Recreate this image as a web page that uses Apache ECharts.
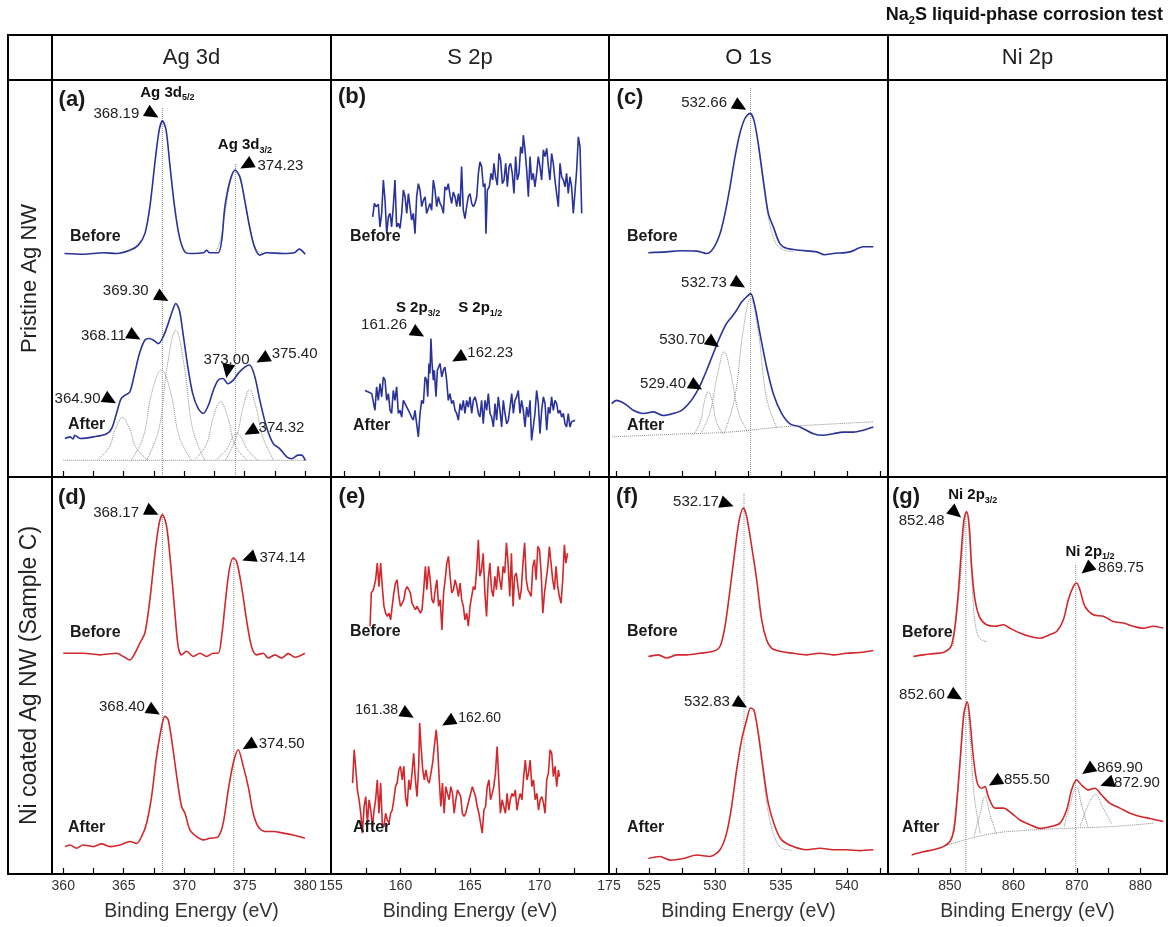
<!DOCTYPE html>
<html><head><meta charset="utf-8">
<script src="https://cdn.jsdelivr.net/npm/echarts@6/dist/echarts.min.js"></script>
<style>html,body{margin:0;padding:0;background:#fff}#c{width:1171px;height:927px}</style>
</head><body><div id="c"></div>
<script>
// ---------------- DATA ----------------
const columnTitles = ['Ag 3d', 'S 2p', 'O 1s', 'Ni 2p'];
const rowTitles = ['Pristine Ag NW', 'Ni coated Ag NW (Sample C)'];
const chartTitle = ['Na', '2', 'S liquid-phase corrosion test'];
const xName = 'Binding Energy (eV)';

// tick label values per column
const agTickLabels = [360, 365, 370, 375, 380];
const agTicks = [360, 362.5, 365, 367.5, 370, 372.5, 375, 377.5, 380];
const sTickLabels = [155, 160, 165, 170, 175];
const sTicksTop = [155, 157.5, 160, 162.5, 165, 167.5, 170, 172.5];
const sTicks = [157.5, 160, 162.5, 165, 167.5, 170, 172.5];
const oTickLabels = [525, 530, 535, 540];
const oTicks = [522.5, 525, 527.5, 530, 532.5, 535, 537.5, 540, 542.5];
const niTickLabels = [850, 860, 870, 880];
const niTicks = [845, 850, 855, 860, 865, 870, 875, 880];

// (a) Ag 3d, pristine
const agA_before = [[360.1,56.3],[361.65,56.1],[363.3,56.5],[364.4,56.3],[365.5,57.1],[366.2,58.4],[366.75,61.3],[367.16,68.1],[367.6,79.8],[367.93,87.4],[368.2,89.7],[368.5,87.4],[368.8,79],[369.2,68.1],[369.6,60.5],[370.05,56.7],[370.5,56.3],[371.6,56.5],[371.85,57.1],[372.1,56.5],[372.8,56.5],[373.1,59.7],[373.36,68.1],[373.8,74.8],[374.2,77.3],[374.6,75.6],[375.0,69.7],[375.4,63],[375.8,58],[376.25,55.9],[376.8,56.5],[378.2,56.3],[379.1,56.5],[379.5,57.4],[380.0,56.1]];
const agA_after = [[360.14,9.7],[360.55,10.1],[360.8,9.6],[360.96,10.5],[361.4,9.7],[362.5,10.1],[363.6,10.9],[364.0,12.2],[364.4,16],[364.77,19.7],[365.1,20.6],[365.5,21.4],[365.9,26.1],[366.3,31.1],[366.75,34.5],[367.1,34.9],[367.44,34.5],[367.85,33.6],[368.26,35.3],[368.68,38.7],[369.04,42],[369.3,43.7],[369.6,42],[369.9,36.1],[370.3,27.7],[370.7,21],[371.16,17.2],[371.57,16],[372.0,18.1],[372.4,21.8],[372.8,24.4],[373.2,24.8],[373.6,23.5],[374.05,24.4],[374.46,26.1],[375.0,27.7],[375.4,28.2],[375.84,25.2],[376.25,19.3],[376.8,12.6],[377.36,8.4],[377.9,7.1],[378.5,5],[378.9,4.6],[379.4,5.5],[379.7,5.5],[380.0,4.2]];
const agA_fitBefore = [[372.6,56.5],[373.0,60],[373.4,67],[373.8,74],[374.23,77.3],[374.6,75],[375.0,69.5],[375.5,62],[376.0,57.2],[376.5,56.4]];
const agA_fitBase = [[360.0,4.2],[380.1,4.2]];
const agA_fit1 = [[362.8,4.2],[363.8,7.5],[364.3,12],[364.9,15],[365.5,12],[366.0,7.5],[367.0,4.2]];
const agA_fit2 = [[365.6,4.2],[366.6,10],[367.3,21],[368.11,27],[368.9,21],[369.6,10],[370.6,4.2]];
const agA_fit3 = [[366.9,4.2],[367.9,12],[368.6,28],[369.3,37],[370.0,28],[370.7,12],[371.7,4.2]];
const agA_fit4 = [[370.8,4.2],[371.8,8],[372.4,15],[373.0,19],[373.6,15],[374.2,8],[375.2,4.2]];
const agA_fit5 = [[372.6,4.2],[373.5,7],[374.0,10],[374.32,11],[374.7,10],[375.2,7],[376.1,4.2]];
const agA_fit6 = [[373.4,4.2],[374.3,10],[374.9,18],[375.4,22],[375.9,18],[376.5,10],[377.4,4.2]];
const agA_refLines = [[368.19,93],[374.23,79]];
const peaksA = [['368.19',368.19,89.7],['374.23',374.23,77.3],['369.30',369.30,43.7],['368.11',368.11,35],['373.00',373.00,24.8],['375.40',375.40,28.2],['364.90',364.90,19.7],['374.32',374.32,11]];

// (b) S 2p, pristine
const sB_before = [[157.05,65.5],[157.17,68.9],[157.29,68.1],[157.45,68.7],[157.57,63.0],[157.69,66.4],[157.81,74.8],[157.93,69.7],[158.05,61.3],[158.17,65.5],[158.29,66.4],[158.40,63.0],[158.52,68.1],[158.64,74.8],[158.76,63.0],[158.88,63.9],[159.0,62.6],[159.12,66.4],[159.24,72.3],[159.36,70.6],[159.48,66.4],[159.6,71.4],[159.71,68.1],[159.83,64.7],[159.95,66.4],[160.07,61.3],[160.19,70.6],[160.31,73.9],[160.43,72.3],[160.55,68.1],[160.67,69.7],[160.79,70.6],[160.9,66.4],[161.02,66.0],[161.14,68.9],[161.26,67.2],[161.38,74.8],[161.5,72.3],[161.62,68.1],[161.74,70.6],[161.86,68.9],[161.98,68.1],[162.1,66.4],[162.21,73.1],[162.33,72.3],[162.45,73.9],[162.57,71.0],[162.69,68.9],[162.81,71.8],[162.93,70.6],[163.05,68.1],[163.17,71.4],[163.29,68.1],[163.4,78.2],[163.52,67.2],[163.64,65.1],[163.76,68.1],[163.88,70.6],[164.0,71.4],[164.12,68.9],[164.24,68.1],[164.36,68.9],[164.48,70.6],[164.6,76.5],[164.71,79.4],[164.83,78.2],[164.95,73.1],[165.07,73.9],[165.14,61.3],[165.24,72.3],[165.38,73.1],[165.5,76.5],[165.62,74.8],[165.71,79.0],[165.83,75.6],[165.95,73.5],[166.07,81.5],[166.19,79.8],[166.31,73.9],[166.43,74.8],[166.55,79.0],[166.67,73.1],[166.79,78.2],[166.9,79.0],[167.02,76.5],[167.14,71.4],[167.26,80.7],[167.38,74.8],[167.5,76.5],[167.62,83.2],[167.74,81.5],[167.81,86.1],[167.93,82.4],[168.05,77.3],[168.17,70.6],[168.29,80.7],[168.4,74.8],[168.52,76.5],[168.64,73.1],[168.76,76.5],[168.88,80.7],[169.0,78.2],[169.12,74.8],[169.24,82.4],[169.36,80.7],[169.48,82.8],[169.6,78.2],[169.71,74.8],[169.83,81.5],[169.95,79.0],[170.07,74.8],[170.19,71.4],[170.31,68.1],[170.43,79.0],[170.55,75.6],[170.67,74.8],[170.79,73.1],[170.9,76.5],[171.02,71.4],[171.14,75.6],[171.26,73.1],[171.38,66.4],[171.5,71.8],[171.62,77.3],[171.74,85.7],[171.86,83.2],[171.98,66.4]];
const sB_after = [[156.5,21.8],[156.74,21.4],[156.98,21.0],[157.21,16.8],[157.33,22.7],[157.45,19.3],[157.57,23.5],[157.69,20.2],[157.81,25.2],[157.93,24.4],[158.05,19.3],[158.17,21.0],[158.29,16.8],[158.4,16.0],[158.52,21.8],[158.64,19.3],[158.76,22.7],[158.88,16.0],[159.0,16.8],[159.12,15.1],[159.24,19.3],[159.36,18.5],[159.48,18.9],[159.6,16.8],[159.71,16.0],[159.83,15.1],[159.95,14.3],[160.07,16.8],[160.19,13.4],[160.31,10.1],[160.43,16.0],[160.55,19.3],[160.67,18.5],[160.79,25.2],[160.9,24.4],[160.98,20.2],[161.07,28.6],[161.14,26.1],[161.21,34.9],[161.29,28.6],[161.38,24.4],[161.45,26.9],[161.57,20.2],[161.67,26.9],[161.76,27.7],[161.86,28.6],[161.98,25.2],[162.1,26.9],[162.21,27.7],[162.33,24.4],[162.45,19.3],[162.57,21.0],[162.69,18.5],[162.81,19.3],[162.93,16.8],[163.05,16.0],[163.17,14.3],[163.29,18.5],[163.4,16.8],[163.52,19.3],[163.64,16.0],[163.76,19.3],[163.88,17.6],[164.0,20.2],[164.12,16.0],[164.24,19.3],[164.36,20.2],[164.48,18.5],[164.6,16.0],[164.71,15.1],[164.83,19.3],[164.95,13.4],[165.07,19.3],[165.19,16.8],[165.31,21.0],[165.43,16.0],[165.55,15.1],[165.67,12.6],[165.79,18.5],[165.9,14.3],[166.02,20.2],[166.14,16.8],[166.26,12.6],[166.38,19.3],[166.5,16.0],[166.62,13.4],[166.74,14.3],[166.86,17.6],[166.98,21.0],[167.1,16.0],[167.21,19.3],[167.33,20.2],[167.45,21.8],[167.57,16.0],[167.69,19.3],[167.81,16.8],[167.93,12.6],[168.05,17.6],[168.17,15.1],[168.29,19.3],[168.4,9.2],[168.52,12.6],[168.64,16.0],[168.76,21.8],[168.88,18.5],[169.0,10.9],[169.12,16.8],[169.24,20.2],[169.36,18.5],[169.48,11.8],[169.6,17.6],[169.71,16.0],[169.83,20.2],[169.95,16.8],[170.07,19.3],[170.19,18.5],[170.31,16.0],[170.43,16.8],[170.55,15.1],[170.67,16.0],[170.79,13.4],[170.9,12.6],[171.02,16.0],[171.14,12.6],[171.26,13.9],[171.38,13.4],[171.5,14.3]];
const peaksB = [['161.26',161.26,34.9],['162.23',162.23,27.7]];

// (c) O 1s, pristine
const oC_before = [[524.95,56.5],[526.34,56.7],[527.35,57.0],[528.6,56.9],[529.37,56.3],[529.87,57.6],[530.38,61.3],[530.76,66.4],[531.14,73.1],[531.52,80.7],[531.89,86.6],[532.27,90.3],[532.65,91.6],[532.95,89.9],[533.28,84.0],[533.66,74.8],[534.04,66.4],[534.42,63.0],[534.92,58.8],[535.43,57.6],[536.44,57.1],[537.7,56.7],[538.3,56.0],[538.96,56.3],[540.23,56.7],[541.24,58.0],[542.0,58.0]];
const oC_after = [[522.17,18.5],[522.55,19.3],[522.93,18.9],[523.31,18.1],[523.81,16.8],[524.57,16.0],[525.33,16.4],[526.09,15.5],[526.84,16.0],[527.47,16.8],[528.11,18.9],[528.61,21.4],[528.99,23.9],[529.37,26.9],[529.87,31.1],[530.38,35.3],[530.88,38.7],[531.26,40.3],[531.64,42.0],[532.02,44.1],[532.4,45.4],[532.7,46.2],[533.03,42.9],[533.41,36.1],[533.91,27.7],[534.42,21.0],[535.05,16.0],[535.68,13.4],[536.44,12.6],[537.45,10.9],[538.21,10.5],[538.96,10.9],[539.72,11.3],[540.48,11.3],[541.24,11.8],[542.0,12.6]];
const oC_fitBefore = [[533.3,83],[533.7,73],[534.1,64.5],[534.6,59],[535.2,57.2],[535.9,56.8]];
const oC_fitBase = [[522.2,10.1],[527,10.8],[531,11.3],[535,12.6],[538,13.2],[542,13.9]];
const oC_fit1 = [[528.4,10.7],[528.9,14],[529.2,19],[529.5,21.5],[529.8,19],[530.1,14],[530.6,10.9]];
const oC_fit2 = [[528.9,10.9],[529.6,16],[530.2,26],[530.7,31.5],[531.2,26],[531.8,16],[532.5,11.2]];
const oC_fit3 = [[530.7,11],[531.5,20],[532.1,36],[532.7,45],[533.3,36],[533.9,20],[534.7,12.2]];
const oC_refLines = [[532.7,98]];
const peaksC = [['532.66',532.66,91.6],['532.73',532.73,46.2],['530.70',530.70,31.5],['529.40',529.40,21.5]];

// (d) Ag 3d, Ni coated
const agD_before = [[360.0,55.6],[361.65,55.6],[363.03,55.2],[364.41,55.6],[364.96,54.8],[365.51,53.9],[365.92,55.6],[366.34,58.2],[366.75,60.7],[367.16,69.1],[367.58,80.8],[367.93,88.4],[368.2,90.5],[368.54,87.6],[368.87,78.3],[369.23,65.7],[369.5,57.3],[369.78,55.2],[370.19,56.1],[370.74,54.8],[371.3,55.6],[371.85,54.8],[372.4,55.6],[372.81,55.6],[373.09,59.8],[373.36,67.4],[373.72,76.6],[374.05,79.6],[374.33,78.7],[374.74,72.4],[375.15,64.0],[375.56,57.3],[375.98,55.2],[376.53,55.6],[376.94,54.4],[377.49,55.2],[378.04,54.4],[378.6,55.5],[379.15,54.6],[379.97,55.6]];
const agD_after = [[360.14,6.9],[360.55,7.3],[361.1,6.5],[361.65,7.3],[362.48,6.9],[363.17,7.6],[363.86,6.9],[364.68,7.3],[365.51,8.2],[366.06,7.7],[366.47,9.4],[366.89,12.8],[367.3,19.5],[367.71,29.6],[368.13,37.1],[368.4,39.7],[368.68,38.8],[369.04,32.1],[369.42,23.7],[369.78,17.0],[370.06,15.3],[370.47,11.1],[371.02,9.4],[371.57,8.6],[372.12,9.0],[372.81,9.4],[373.22,12.8],[373.64,21.2],[374.05,27.9],[374.46,31.3],[374.88,27.1],[375.29,22.0],[375.7,15.3],[376.12,11.9],[376.67,10.7],[377.36,10.7],[378.18,10.3],[379.0,9.8],[379.97,9.0]];
const agD_refLines = [[368.2,91],[374.1,80]];
const peaksD = [['368.17',368.17,90.5],['374.14',374.14,79.6],['368.40',368.40,39.7],['374.50',374.50,31.3]];

// (e) S 2p, Ni coated
const sE_before = [[157.81,62.4],[157.9,70.8],[158.05,71.6],[158.21,74.1],[158.33,78.3],[158.45,72.4],[158.57,78.3],[158.69,72.4],[158.81,67.4],[158.93,65.7],[159.05,64.9],[159.17,65.7],[159.29,64.0],[159.4,67.4],[159.52,70.8],[159.64,73.3],[159.76,74.1],[159.88,69.9],[160.0,67.4],[160.12,68.2],[160.24,69.1],[160.36,71.6],[160.48,72.4],[160.6,71.6],[160.71,70.8],[160.83,68.2],[160.95,67.4],[161.07,66.6],[161.19,67.4],[161.31,67.0],[161.43,65.7],[161.55,66.6],[161.67,71.6],[161.79,77.5],[161.9,71.6],[162.02,77.5],[162.14,74.1],[162.26,69.1],[162.38,68.2],[162.5,71.6],[162.62,74.1],[162.74,67.4],[162.86,69.1],[162.98,61.5],[163.1,70.8],[163.21,74.1],[163.33,78.3],[163.45,80.0],[163.57,75.0],[163.69,70.8],[163.81,71.6],[163.93,74.1],[164.05,72.4],[164.17,69.9],[164.29,73.3],[164.4,69.1],[164.52,67.4],[164.64,64.0],[164.76,65.7],[164.88,62.4],[165.0,67.4],[165.12,69.9],[165.24,72.4],[165.36,71.6],[165.48,76.6],[165.6,84.2],[165.71,75.0],[165.83,76.6],[165.95,80.8],[166.07,70.8],[166.19,64.9],[166.31,74.1],[166.43,78.3],[166.55,71.6],[166.67,69.9],[166.79,75.0],[166.9,71.6],[167.02,77.5],[167.14,74.1],[167.26,71.6],[167.38,77.5],[167.5,75.8],[167.62,83.4],[167.74,78.3],[167.86,69.9],[167.98,80.8],[168.1,67.4],[168.21,75.0],[168.33,75.8],[168.45,72.4],[168.57,69.1],[168.69,71.6],[168.81,78.3],[168.93,83.4],[169.05,74.1],[169.17,71.6],[169.29,70.8],[169.4,69.9],[169.52,77.5],[169.64,79.2],[169.76,74.1],[169.88,82.5],[170.0,81.7],[170.12,75.8],[170.24,65.7],[170.36,70.8],[170.48,74.1],[170.6,77.5],[170.71,82.5],[170.83,78.3],[170.95,74.1],[171.07,71.6],[171.19,77.5],[171.31,72.4],[171.43,69.9],[171.55,68.2],[171.67,74.1],[171.79,82.9],[171.9,78.3],[172.02,80.8]];
const sE_after = [[156.55,22.9],[156.67,31.3],[156.79,26.2],[156.9,21.2],[157.02,18.7],[157.14,15.3],[157.26,10.3],[157.38,17.0],[157.5,19.5],[157.62,12.8],[157.74,18.7],[157.86,16.1],[157.98,11.9],[158.1,16.1],[158.21,18.7],[158.33,23.7],[158.45,15.3],[158.57,22.9],[158.69,12.8],[158.81,11.9],[158.93,15.3],[159.05,13.6],[159.17,12.8],[159.29,15.3],[159.4,16.1],[159.52,18.7],[159.64,22.0],[159.76,22.9],[159.88,26.2],[160.0,27.1],[160.12,23.7],[160.24,27.1],[160.36,19.5],[160.48,17.0],[160.6,23.7],[160.71,21.2],[160.83,25.4],[160.95,30.4],[161.07,23.7],[161.19,19.5],[161.31,27.1],[161.38,38.0],[161.48,32.1],[161.6,26.2],[161.71,23.7],[161.83,26.2],[161.95,23.7],[162.07,22.9],[162.19,25.4],[162.31,27.9],[162.43,32.1],[162.57,36.3],[162.67,32.1],[162.79,23.7],[162.9,17.0],[163.02,22.9],[163.14,15.3],[163.26,22.0],[163.38,20.3],[163.5,18.7],[163.62,22.0],[163.74,20.3],[163.86,15.3],[163.98,18.7],[164.1,21.2],[164.21,21.2],[164.33,19.5],[164.45,15.3],[164.57,14.5],[164.69,15.3],[164.81,17.0],[164.93,18.7],[165.05,20.3],[165.17,22.0],[165.29,22.0],[165.4,19.5],[165.52,17.0],[165.64,15.3],[165.76,12.8],[165.88,10.3],[166.0,16.1],[166.12,17.0],[166.24,22.0],[166.36,23.7],[166.48,18.7],[166.6,20.3],[166.71,22.0],[166.83,25.4],[166.95,32.1],[167.07,23.7],[167.19,15.3],[167.31,18.7],[167.43,17.0],[167.55,15.3],[167.67,20.3],[167.79,16.1],[167.9,18.7],[168.02,20.3],[168.14,19.5],[168.26,21.2],[168.38,16.1],[168.5,18.7],[168.62,20.3],[168.74,18.7],[168.86,24.5],[168.98,28.7],[169.1,23.7],[169.21,25.4],[169.33,28.7],[169.45,22.0],[169.57,23.7],[169.69,18.7],[169.81,20.3],[169.93,16.1],[170.05,18.7],[170.17,19.5],[170.29,17.8],[170.4,15.3],[170.52,23.7],[170.64,25.4],[170.76,31.3],[170.88,30.4],[171.0,24.5],[171.12,27.1],[171.24,22.0],[171.36,26.2],[171.43,24.5]];
const peaksE = [['161.38',161.38,38.0],['162.60',162.60,36.3]];

// (f) O 1s, Ni coated
const oF_before = [[524.95,54.8],[525.71,55.2],[526.34,54.4],[527.1,55.2],[527.85,55.2],[528.86,55.6],[529.87,56.1],[530.38,57.3],[530.76,62.4],[531.14,71.6],[531.52,81.7],[531.84,89.2],[532.15,92.2],[532.4,90.1],[532.78,82.5],[533.16,74.1],[533.54,64.0],[533.91,59.0],[534.29,56.9],[534.92,56.1],[535.93,55.6],[536.94,55.2],[537.95,55.6],[538.96,55.2],[539.97,55.6],[540.98,55.8],[542.0,56.3]];
const oF_after = [[524.95,3.9],[525.83,4.4],[526.59,3.5],[527.6,3.9],[528.61,4.8],[529.62,4.4],[530.38,6.1],[530.88,10.3],[531.26,17.0],[531.64,26.2],[532.02,33.8],[532.4,38.8],[532.7,41.8],[532.95,41.3],[533.28,35.5],[533.66,26.2],[534.04,17.8],[534.55,11.9],[535.05,8.6],[535.93,6.9],[536.94,6.1],[537.95,6.5],[538.96,6.1],[539.97,6.1],[540.98,5.9],[542.0,6.1]];
const oF_fitAfter = [[533.28,35.5],[533.66,25],[534.04,15.5],[534.55,9],[535.05,6.5],[535.9,6.0]];
const oF_refLines = [[532.2,96]];
const peaksF = [['532.17',532.17,92.2],['532.83',532.83,41.8]];

// (g) Ni 2p, Ni coated
const niG_before = [[844.23,54.8],[845.8,55.2],[847.38,55.5],[848.95,55.8],[849.74,56.5],[850.26,57.7],[850.79,62.4],[851.31,70.8],[851.84,82.5],[852.2,89.2],[852.62,91.3],[853.04,87.6],[853.41,77.5],[853.94,69.1],[854.72,64.5],[855.77,62.8],[857.09,62.4],[858.4,62.8],[859.45,61.9],[861.02,60.7],[862.6,59.8],[864.17,59.4],[865.75,60.3],[866.8,61.1],[867.85,64.0],[868.64,69.1],[869.42,72.4],[869.95,73.3],[870.47,71.6],[871.26,67.4],[872.57,65.3],[874.15,64.9],[875.72,63.6],[877.3,63.2],[878.87,62.4],[880.45,61.9],[882.02,62.4],[883.6,61.9]];
const niG_after = [[843.96,4.8],[845.8,5.6],[847.38,6.1],[848.95,6.9],[850.0,8.2],[850.63,11.1],[851.15,19.5],[851.68,30.4],[852.2,40.5],[852.73,43.4],[853.15,38.8],[853.67,29.6],[854.3,22.9],[854.99,21.6],[855.51,22.0],[856.04,19.5],[857.09,16.6],[858.4,16.6],[859.71,15.3],[861.02,13.6],[862.6,12.4],[864.17,11.5],[865.75,11.9],[867.32,12.8],[868.37,16.1],[869.16,21.2],[869.95,23.7],[870.73,22.4],[871.78,21.2],[872.83,21.6],[873.88,19.9],[875.2,17.8],[876.77,16.6],[878.35,15.3],[879.92,14.5],[881.5,14.0],[883.6,13.2]];
const niG_fitBefore = [[850.5,57.5],[851.5,72],[852.3,88],[852.6,91.3],[853.0,86],[853.6,70],[853.9,64],[854.6,59.5],[855.8,58.5]];
const niG_fitBase = [[849,7],[856,10],[862,11],[870,11.6],[876,12],[882,12.8]];
const niG_fit1 = [[850.3,9],[851.3,22],[852.1,38],[852.6,43],[853.1,36],[853.8,20],[854.8,10]];
const niG_fit2 = [[853.8,9.5],[854.7,15],[855.5,19.5],[856.3,15],[857.3,10]];
const niG_fit3 = [[868.0,12],[869.0,18],[869.9,22],[870.8,17],[871.8,11.5]];
const niG_fit4 = [[870.5,12],[871.8,17.5],[872.9,20],[874.0,17],[875.5,12.5]];
const niG_refLines = [[852.5,90],[869.8,78]];
const peaksG = [['852.48',852.48,91.3],['869.75',869.75,73.3],['852.60',852.60,43.4],['855.50',855.50,22],['869.90',869.90,23.7],['872.90',872.90,21.6]];

// ---------------- LAYOUT / STYLE ----------------
const FONT = '"Liberation Sans", Arial, Helvetica, sans-serif';
const BLUE = '#2a3399', RED = '#d2282c', FITC = '#8c8c8c';
const COLS = [[52,279],[331,278],[609,279],[888,279]];
const ROWS = [[80,397],[477,397]];
// annotation layout: [triDx, triDy, arrowAngleDeg, labelDx, labelDy]
const layA = [[-10,-7,30,-46,-7],[11,-5,150,45,-4],[-13.5,-6,30,-50,-13],[-27,-2,30,-58,-2],[7,-7.5,100,6,-18.5],[13,-6,150,45,-11.5],[-12.6,1,30,-45,0],[14,-2,150,45,-5]];
const layB = [[-13.6,-5.4,30,-47.6,-13.4],[13,-9,150,45,-14]];
const layC = [[-10,-7,30,-46,-10],[-12,-9.6,30,-47,-10.6],[-11,-9,35,-42,-12],[-11,-5.6,30,-44,-7.6]];
const layD = [[-10,-3,25,-46,-2],[14.5,0,160,48,0],[-11,-5.4,30,-43,-9.4],[10,-4,150,43,-6]];
const layE = [[-12,-9,30,-43,-13],[11.6,-8,150,43,-12]];
const layF = [[-16.6,-4,20,-47.6,-6],[-11.4,-4,30,-45.4,-6]];
const layG = [[-10,1.5,40,-44,9.5],[11.6,-14,140,45.6,-15],[-10.5,-5.7,30,-44.5,-6.7],[10,-4.7,150,42,-6.7],[11.6,-10,145,43.6,-12],[11.6,-5,160,41.6,-5]];

const panels = [
  {tag:'(a)', col:0, row:0, xr:[359.07,382.13], ticks:agTicks, labels:agTickLabels, color:BLUE, curves:[agA_before, agA_after], fits:[agA_fitBefore, agA_fitBase, agA_fit1, agA_fit2, agA_fit3, agA_fit4, agA_fit5, agA_fit6], refs:agA_refLines, peaks:peaksA, lay:layA, smooth:0.3,
   heads:[['Ag 3d','5/2',0,5,-28],['Ag 3d','3/2',1,9.5,-25]], txt:[[20,20],[18,157],[16,345]]},
  {tag:'(b)', col:1, row:0, xr:[154.07,173.93], ticks:sTicksTop, labels:sTickLabels, color:BLUE, curves:[sB_before, sB_after], fits:[], refs:[], peaks:peaksB, lay:layB, smooth:false,
   heads:[['S 2p','3/2',0,-13.6,-30.4],['S 2p','1/2',1,35,-59]], txt:[[21,17],[19,157],[22,346]]},
  {tag:'(c)', col:2, row:0, xr:[521.97,543.11], ticks:oTicks, labels:oTickLabels, color:BLUE, curves:[oC_before, oC_after], fits:[oC_fitBefore, oC_fitBase, oC_fit1, oC_fit2, oC_fit3], refs:oC_refLines, peaks:peaksC, lay:layC, smooth:0.3,
   heads:[], txt:[[21,18],[18,157],[18,346]]},
  {tag:'(d)', col:0, row:1, xr:[359.07,382.13], ticks:agTicks, labels:agTickLabels, color:RED, curves:[agD_before, agD_after], fits:[], refs:agD_refLines, peaks:peaksD, lay:layD, smooth:0.3,
   heads:[], txt:[[20,21],[18,156],[16,351]]},
  {tag:'(e)', col:1, row:1, xr:[155,175], ticks:sTicks, labels:sTickLabels, color:RED, curves:[sE_before, sE_after], fits:[], refs:[], peaks:peaksE, lay:layE, smooth:false, small:true,
   heads:[], txt:[[21,20],[19,155],[22,351]]},
  {tag:'(f)', col:2, row:1, xr:[521.97,543.11], ticks:oTicks, labels:oTickLabels, color:RED, curves:[oF_before, oF_after], fits:[oF_fitAfter], refs:oF_refLines, peaks:peaksF, lay:layF, smooth:0.3,
   heads:[], txt:[[18,20],[18,155],[18,351]]},
  {tag:'(g)', col:3, row:1, xr:[840.24,884.18], ticks:niTicks, labels:niTickLabels, color:RED, curves:[niG_before, niG_after], fits:[niG_fitBefore, niG_fitBase, niG_fit1, niG_fit2, niG_fit3, niG_fit4], refs:niG_refLines, peaks:peaksG, lay:layG, smooth:0.3,
   heads:[['Ni 2p','3/2',0,7,-16.5],['Ni 2p','1/2',1,14.6,-31]], txt:[[18,20],[14,156],[14,351]]}
];

// ---------------- BUILD ----------------
const grid = [], xAxis = [], yAxis = [], series = [];
panels.forEach((p, i) => {
  const [left, width] = COLS[p.col], [top, height] = ROWS[p.row];
  grid.push({left, top, width, height});
  xAxis.push({
    type:'value', gridIndex:i, min:p.xr[0], max:p.xr[1],
    axisLine:{show:false}, splitLine:{show:false},
    axisTick:{show:true, inside:true, length:6, customValues:p.ticks, lineStyle:{color:'#000', width:1.2}},
    axisLabel:{show:p.row === 1, customValues:p.labels, color:'#333', fontSize:14, fontFamily:FONT, margin:5},
    name: p.row === 1 ? xName : '', nameLocation:'middle', nameGap:28,
    nameTextStyle:{fontSize:19.5, color:'#333', fontFamily:FONT}
  });
  yAxis.push({type:'value', gridIndex:i, min:0, max:100, show:false});
  p.fits.forEach(f => series.push({type:'line', xAxisIndex:i, yAxisIndex:i, data:f, symbol:'none', smooth:0.4, silent:true, z:1,
    lineStyle:{color:FITC, width:1, type:'dotted'}}));
  p.refs.forEach(r => series.push({type:'line', xAxisIndex:i, yAxisIndex:i, data:[[r[0],0],[r[0],r[1]]], symbol:'none', silent:true, z:1,
    lineStyle:{color:FITC, width:1, type:'dotted'}}));
  p.curves.forEach(c => series.push({type:'line', xAxisIndex:i, yAxisIndex:i, data:c, symbol:'none', smooth:p.smooth, silent:true, z:3,
    lineStyle:{color:p.color, width:1.6}}));
});

const chart = echarts.init(document.getElementById('c'), null, {width:1171, height:927});
chart.setOption({animation:false, backgroundColor:'#fff', grid, xAxis, yAxis, series});

function txt(text, x, y, font, align, fill) {
  return {type:'text', z:20, silent:true,
    style:{text, x, y, font, fill:fill||'#1a1a1a', align:align||'center', verticalAlign:'middle', textAlign:align||'center', textVerticalAlign:'middle'}};
}
function subTxt(main, sub, x, y, size, align) {
  return {type:'text', z:20, silent:true, style:{
    text:'{m|' + main + '}{s|' + sub + '}', x, y, align:align||'center', verticalAlign:'middle', textAlign:align||'center', textVerticalAlign:'middle',
    rich:{m:{font:'bold ' + size + 'px ' + FONT, fill:'#111', color:'#111', lineHeight:size+4},
          s:{font:'bold ' + Math.round(size*0.62) + 'px ' + FONT, fill:'#111', color:'#111', lineHeight:Math.round(size*0.62), verticalAlign:'bottom'}}}};
}
function arrow(cx, cy, deg) {
  const t = deg * Math.PI / 180, ux = Math.cos(t), uy = Math.sin(t), nx = -uy, ny = ux;
  const L = 14, W = 6.5;
  const tip = [cx + ux*L/2, cy + uy*L/2], b = [cx - ux*L/2, cy - uy*L/2];
  return {type:'polygon', z:20, silent:true, shape:{points:[tip, [b[0]+nx*W, b[1]+ny*W], [b[0]-nx*W, b[1]-ny*W]]}, style:{fill:'#000'}};
}

const g = [];
// table frame
const X0 = 8, Y0 = 35, X1 = 1167, Y1 = 874;
g.push({type:'rect', z:30, silent:true, shape:{x:X0, y:Y0, width:X1-X0, height:Y1-Y0}, style:{fill:'none', stroke:'#000', lineWidth:2}});
[80, 477].forEach(y => g.push({type:'line', z:30, silent:true, shape:{x1:X0, y1:y, x2:X1, y2:y}, style:{stroke:'#000', lineWidth:2}}));
[52, 331, 609, 888].forEach(x => g.push({type:'line', z:30, silent:true, shape:{x1:x, y1:Y0, x2:x, y2:Y1}, style:{stroke:'#000', lineWidth:2}}));
// headers
COLS.forEach((c, k) => g.push(txt(columnTitles[k], c[0] + c[1]/2, 58, '22px ' + FONT, 'center', '#222')));
const rowFont = [22, 23];
ROWS.forEach((r, k) => g.push({type:'text', z:20, silent:true, x:30, y:r[0] + r[1]/2, rotation:Math.PI/2,
  style:{text:rowTitles[k], x:0, y:0, font:rowFont[k] + 'px ' + FONT, fill:'#222', align:'center', verticalAlign:'middle', textAlign:'center', textVerticalAlign:'middle'}}));
// title
g.push({type:'text', z:20, silent:true, style:{text:'{m|' + chartTitle[0] + '}{s|' + chartTitle[1] + '}{m|' + chartTitle[2] + '}', x:1163, y:15,
  align:'right', verticalAlign:'middle', textAlign:'right', textVerticalAlign:'middle',
  rich:{m:{font:'bold 18px ' + FONT, fill:'#111', color:'#111', lineHeight:22}, s:{font:'bold 11px ' + FONT, fill:'#111', color:'#111', lineHeight:11, verticalAlign:'bottom'}}}});

panels.forEach((p, i) => {
  const [left] = COLS[p.col], [top] = ROWS[p.row];
  g.push(txt(p.tag, left + p.txt[0][0], top + p.txt[0][1], 'bold 22px ' + FONT, 'center'));
  g.push(txt('Before', left + p.txt[1][0], top + p.txt[1][1], 'bold 16px ' + FONT, 'left'));
  g.push(txt('After', left + p.txt[2][0], top + p.txt[2][1], 'bold 16px ' + FONT, 'left'));
  const pix = p.peaks.map(pk => chart.convertToPixel({gridIndex:i}, [pk[1], pk[2]]));
  p.peaks.forEach((pk, k) => {
    const L = p.lay[k], pp = pix[k];
    g.push(arrow(pp[0] + L[0], pp[1] + L[1], L[2]));
    g.push(txt(pk[0], pp[0] + L[3], pp[1] + L[4], (p.small ? '14px ' : '15px ') + FONT, 'center', '#222'));
  });
  p.heads.forEach(h => {
    const pp = pix[h[2]];
    g.push(subTxt(h[0], h[1], pp[0] + h[3], pp[1] + h[4], 15, 'center'));
  });
});
chart.setOption({graphic:{elements:g}});
</script></body></html>
